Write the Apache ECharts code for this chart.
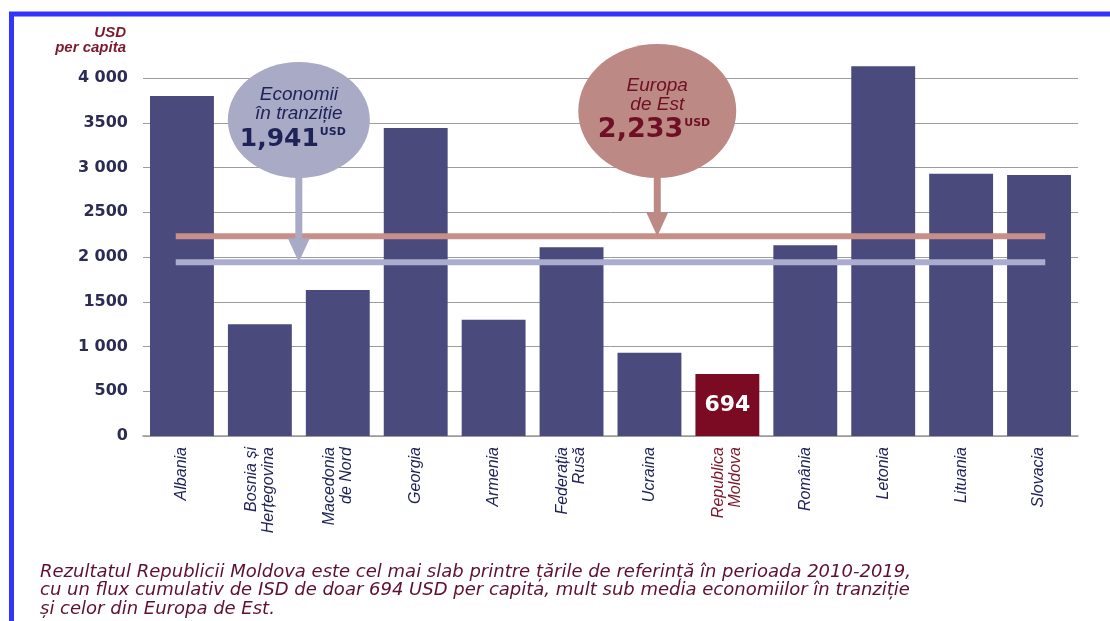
<!DOCTYPE html>
<html>
<head>
<meta charset="utf-8">
<script src="https://cdn.jsdelivr.net/npm/echarts@6/dist/echarts.min.js"></script>
<style>
  html, body { margin: 0; padding: 0; background: #ffffff; }
  #chart { width: 1110px; height: 621px; }
</style>
</head>
<body>
<div id="chart"></div>
<script>
// Cumulative FDI inflow per capita, 2010-2019 (USD)
const countries = [
  'Albania', 'Bosnia și\nHerțegovina', 'Macedonia\nde Nord', 'Georgia', 'Armenia',
  'Federația\nRusă', 'Ucraina', 'Republica\nMoldova', 'România', 'Letonia', 'Lituania', 'Slovacia'
];
const fdiPerCapita = [3800, 1250, 1630, 3440, 1300, 2110, 930, 694, 2130, 4130, 2930, 2915];
const highlighted = 'Republica\nMoldova';
const yTickLabels = ['0', '500', '1 000', '1500', '2 000', '2500', '3 000', '3500', '4 000'];

// Group averages and the stretch of categories their lines cover
const transitionAvg = 1941;
const easternEuropeAvg = 2233;
const avgLineSpan = [-0.08, 11.08];

const NAVY = '#1f2257';
const WINE = '#6e0f25';
const BAR = '#4a4a7c';
const BAR_HL = '#7b0b22';
const LAVENDER = '#a9aac6';
const ROSE = '#bd8984';

const chart = echarts.init(document.getElementById('chart'));

const barData = fdiPerCapita.map((v, i) => countries[i] === highlighted ? {
  value: v,
  itemStyle: { color: BAR_HL },
  label: {
    show: true, position: 'inside', formatter: '{c}',
    color: '#ffffff', fontSize: 22, fontWeight: 'bold', fontFamily: 'DejaVu Sans'
  }
} : v);

chart.setOption({
  backgroundColor: '#ffffff',
  animation: false,
  grid: { left: 143, right: 32, top: 78, bottom: 185 },
  xAxis: [{
    type: 'category',
    data: countries,
    axisLine: { lineStyle: { color: '#9a9a9a', width: 1.5 } },
    axisTick: { show: false },
    axisLabel: {
      interval: 0, rotate: 90, margin: 11,
      fontFamily: 'Liberation Sans', fontStyle: 'italic', fontSize: 16, lineHeight: 17,
      color: (value) => value === highlighted ? '#7a1a2e' : NAVY
    }
  }, {
    type: 'value', min: -0.5, max: 11.5, show: false
  }],
  yAxis: {
    type: 'value', min: 0, max: 4000, interval: 500,
    axisLine: { show: false },
    axisTick: { show: false },
    splitLine: { lineStyle: { color: '#9c9c9c', width: 1 } },
    axisLabel: {
      margin: 15, color: '#2b2b55', fontFamily: 'DejaVu Sans', fontWeight: 'bold', fontSize: 16,
      formatter: (v) => yTickLabels[Math.round(v / 500)]
    }
  },
  series: [{
    type: 'bar',
    data: barData,
    barCategoryGap: '18%',
    itemStyle: { color: BAR },
    clip: false,
    z: 2
  }, {
    type: 'line',
    xAxisIndex: 1,
    data: avgLineSpan.map(x => [x, easternEuropeAvg]),
    symbol: 'none',
    lineStyle: { color: '#c78f89', width: 6 },
    z: 5
  }, {
    type: 'line',
    xAxisIndex: 1,
    data: avgLineSpan.map(x => [x, transitionAvg]),
    symbol: 'none',
    lineStyle: { color: '#abacd0', width: 6 },
    z: 5
  }]
});

// Callout bubbles with arrows pointing down to their average lines
function bubble(xVal, yAvg, cy, rx, ry, fill, textColor, lines, number, numSize, shift) {
  const tip = chart.convertToPixel({ xAxisIndex: 1, yAxisIndex: 0 }, [xVal, yAvg]);
  const cx = tip[0], tipY = tip[1];
  const headH = 24, headW = 11;
  const els = [
    { type: 'ellipse', shape: { cx, cy, rx, ry }, style: { fill }, z: 10 },
    { type: 'rect', shape: { x: cx - 3.5, y: cy + ry - 10, width: 7, height: tipY - headH - (cy + ry - 10) }, style: { fill }, z: 10 },
    { type: 'polygon', shape: { points: [[cx - headW, tipY - headH], [cx + headW, tipY - headH], [cx, tipY]] }, style: { fill }, z: 10 }
  ];
  lines.forEach((t, i) => els.push({
    type: 'text', x: cx, y: cy - 25 + i * 19, z: 11,
    style: {
      text: t, fill: textColor, font: 'italic 19px "Liberation Sans"',
      align: 'center', verticalAlign: 'middle'
    }
  }));
  els.push({
    type: 'text', x: cx + shift, y: cy + 19, z: 11,
    style: { text: number, fill: textColor, font: 'bold ' + numSize + 'px "DejaVu Sans"', align: 'right', verticalAlign: 'middle' }
  });
  els.push({
    type: 'text', x: cx + shift + 1, y: cy + 12, z: 11,
    style: { text: 'USD', fill: textColor, font: 'bold 11px "DejaVu Sans"', align: 'left', verticalAlign: 'middle' }
  });
  return els;
}

const graphics = [].concat(
  bubble(1.5, transitionAvg, 120, 71, 58, LAVENDER, NAVY, ['Economii', 'în tranziție'], '1,941', 25, 20),
  bubble(6.1, easternEuropeAvg, 111, 79, 67, ROSE, WINE, ['Europa', 'de Est'], '2,233', 27, 26),
  [{
    type: 'rect', shape: { x: 11.5, y: 14, width: 1300, height: 1000 },
    style: { fill: 'none', stroke: '#3434ff', lineWidth: 5 }, z: 20
  }, {
    // value axis unit
    type: 'text', x: 126, y: 25, z: 11,
    style: {
      text: 'USD\nper capita', fill: '#7a1a2e', font: 'italic bold 15px "Liberation Sans"',
      lineHeight: 15, align: 'right'
    }
  }, {
    type: 'text', x: 40, y: 563, z: 11,
    style: {
      text: 'Rezultatul Republicii Moldova este cel mai slab printre țările de referință în perioada 2010-2019,\n' +
            'cu un flux cumulativ de ISD de doar 694 USD per capita, mult sub media economiilor în tranziție\n' +
            'și celor din Europa de Est.',
      fill: '#5e1030', font: 'italic 18px "DejaVu Sans"', lineHeight: 18.5
    }
  }]
);
chart.setOption({ graphic: graphics });
</script>
</body>
</html>
